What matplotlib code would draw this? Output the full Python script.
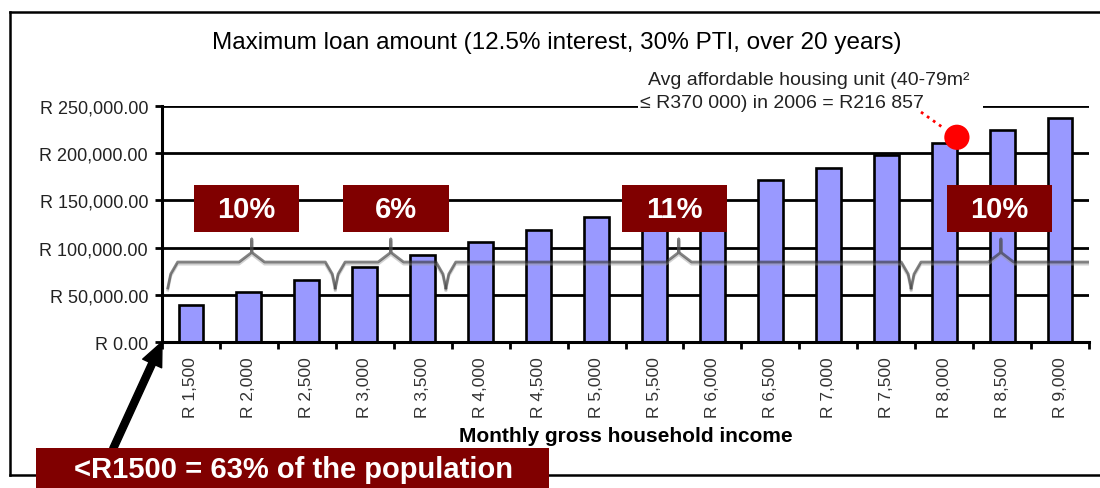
import matplotlib
matplotlib.use("Agg")
import matplotlib.pyplot as plt
from matplotlib.patches import Rectangle
from matplotlib.lines import Line2D

plt.rcParams["font.family"] = ["Liberation Sans", "DejaVu Sans"]

# Monthly gross household income brackets and the maximum loan each can carry
incomes = ["R 1,500", "R 2,000", "R 2,500", "R 3,000", "R 3,500", "R 4,000",
           "R 4,500", "R 5,000", "R 5,500", "R 6,000", "R 6,500", "R 7,000",
           "R 7,500", "R 8,000", "R 8,500", "R 9,000"]
max_loan = [39600, 52800, 66000, 79200, 92400, 105600, 118800, 132000,
            145200, 158400, 171600, 184800, 198000, 211200, 224400, 237700]

y_ticks = [0, 50000, 100000, 150000, 200000, 250000]
y_tick_labels = ["R 0.00", "R 50,000.00", "R 100,000.00", "R 150,000.00",
                 "R 200,000.00", "R 250,000.00"]

# Population share per income band (band edges in category units, label)
band_edges = [-0.40, 2.49, 4.40, 12.43, 15.5]
band_shares = ["10%", "6%", "11%", "10%"]
band_tips = [1.05, 3.45, 8.42, 13.98]
band_boxes = [(0.05, 1.86), (2.62, 4.45), (7.44, 9.25), (13.05, 14.86)]

avg_unit_price = 216857
avg_unit_x = 13.22

title = "Maximum loan amount (12.5% interest, 30% PTI, over 20 years)"
xlabel = "Monthly gross household income"
callout = "<R1500 = 63% of the population"

DARK_RED = "#800000"
BAR = "#9999ff"

fig = plt.figure(figsize=(11, 4.89), dpi=100)
ax = fig.add_axes([162 / 1100, 1 - 343 / 489, (1089 - 162) / 1100, (343 - 107) / 489])

x = list(range(len(incomes)))
ax.bar(x, max_loan, width=0.43, color=BAR, edgecolor="black", linewidth=1.9, zorder=2)

ax.set_xlim(-0.5, len(incomes) - 0.5)
ax.set_ylim(0, 250000)
ax.set_axisbelow(True)
ax.set_yticks(y_ticks)
ax.set_yticklabels(y_tick_labels, fontsize=13, color="#222222")
ax.yaxis.grid(True, color="black", linewidth=2.0)
ax.tick_params(axis="y", length=5, width=2, direction="out", pad=5)

ax.set_xticks(x)
ax.set_xticklabels(incomes, rotation=90, fontsize=12.5, color="#333333", va="top")
ax.set_xticks([i + 0.5 for i in range(-1, len(incomes))], minor=True)
ax.tick_params(axis="x", which="major", length=0, pad=10)
ax.tick_params(axis="x", which="minor", length=5, width=2, direction="out")

for s in ["top", "right"]:
    ax.spines[s].set_visible(False)
for s in ["left", "bottom"]:
    ax.spines[s].set_linewidth(2.2)

ax.set_xlabel(xlabel, fontsize=15, fontweight="bold", va="center")
ax.xaxis.set_label_coords(0.5, -0.398)

# Braces grouping the income bands
y_line = 84700
y_tip = 109100
y_end = 57200
y_kink = 95000
y_vkink = 72000


def brace_points(x0, x1, tip, hook_left=True, hook_right=True):
    pts = []
    if hook_left:
        pts += [(x0, y_end), (x0 + 0.05, y_vkink), (x0 + 0.17, y_line)]
    else:
        pts += [(x0, y_line)]
    pts += [(tip - 0.22, y_line), (tip, y_kink), (tip, y_tip),
            (tip, y_kink), (tip + 0.22, y_line)]
    if hook_right:
        pts += [(x1 - 0.17, y_line), (x1 - 0.05, y_vkink), (x1, y_end)]
    else:
        pts += [(x1, y_line)]
    return pts


for i in range(len(band_shares)):
    pts = brace_points(band_edges[i], band_edges[i + 1], band_tips[i],
                       hook_right=(i < len(band_shares) - 1))
    xs = [p[0] for p in pts]
    ys = [p[1] for p in pts]
    ax.plot(xs, [v - 2200 for v in ys], color="#999999", lw=2.0, alpha=0.45,
            zorder=3, solid_joinstyle="round")
    ax.plot(xs, ys, color="#333333", lw=2.0, alpha=0.6, zorder=3,
            solid_joinstyle="round")

for (bx0, bx1), share in zip(band_boxes, band_shares):
    y0, y1 = 116500, 166000
    ax.add_patch(Rectangle((bx0, y0), bx1 - bx0, y1 - y0, facecolor=DARK_RED,
                           edgecolor="none", zorder=4))
    ax.text((bx0 + bx1) / 2, (y0 + y1) / 2, share, color="white", fontsize=21,
            fontweight="bold", ha="center", va="center", zorder=5)

# Average affordable housing unit marker and note
ax.add_patch(Rectangle((7.72, 245000), 13.67 - 7.72, 14000, facecolor="white",
                       edgecolor="none", zorder=1, clip_on=False))
ax.text(7.89, 278600, "Avg affordable housing unit (40-79m\u00b2", fontsize=14,
        ha="left", va="center", color="#222222", clip_on=False, zorder=6)
ax.text(7.75, 253200, "\u2264 R370 000) in 2006 = R216 857", fontsize=14,
        ha="left", va="center", color="#222222", clip_on=False, zorder=6)
ax.plot([12.6, 12.97], [243600, 227500], color="red", lw=2, ls=":",
        zorder=6, clip_on=False)
ax.scatter([avg_unit_x], [avg_unit_price], s=330, color="red", zorder=7,
           clip_on=False, edgecolors="none")

# Title
fig.text(0.506, 1 - 43 / 489, title, fontsize=17.5, ha="center", va="center")

# Outer frame
frame_kw = dict(color="black", lw=1.8, transform=fig.transFigure)
fig.add_artist(Line2D([10 / 1100, 1.0], [1 - 13 / 489] * 2, **frame_kw))
fig.add_artist(Line2D([10 / 1100] * 2, [1 - 13 / 489, 1 - 476 / 489], **frame_kw))
fig.add_artist(Line2D([10 / 1100, 1.0], [1 - 476 / 489] * 2, **frame_kw))

# Arrow pointing at the origin and the population callout
ax.annotate("", xy=(-0.5, 0), xycoords="data",
            xytext=(113 / 1100, 1 - 450 / 489), textcoords="figure fraction",
            arrowprops=dict(arrowstyle="simple,head_width=1.5,head_length=1.7,tail_width=0.5",
                            mutation_scale=10, color="black", shrinkA=0, shrinkB=0),
            zorder=8, annotation_clip=False)
fig.add_artist(Rectangle((36 / 1100, 0), (549 - 36) / 1100, (489 - 449) / 489,
                         transform=fig.transFigure, facecolor=DARK_RED,
                         edgecolor="none", zorder=9))
fig.text(293 / 1100, 1 - 470 / 489, callout, color="white", fontsize=21,
         fontweight="bold", ha="center", va="center", zorder=10)

fig.savefig("out.png", dpi=100)
